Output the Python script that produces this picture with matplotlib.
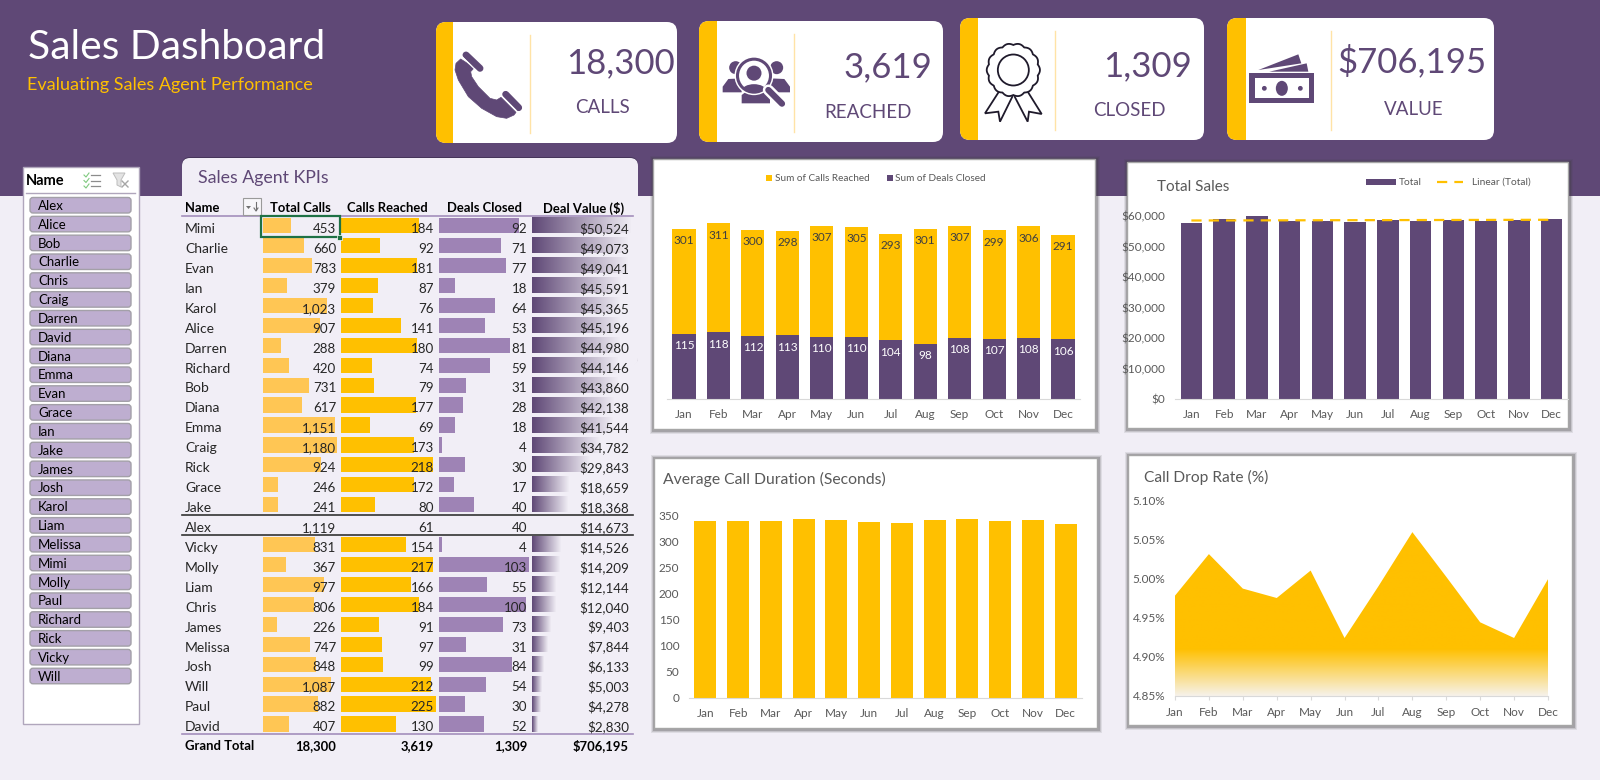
import numpy as np
import matplotlib
matplotlib.use("Agg")
import matplotlib.pyplot as plt
from matplotlib.colors import LinearSegmentedColormap, to_rgb
from matplotlib.lines import Line2D
from matplotlib.patches import Circle, Ellipse, FancyBboxPatch, Polygon, Rectangle

plt.rcParams["font.family"] = ["Lato", "DejaVu Sans"]

W, H = 1600, 780
PURPLE = "#5F4876"
YELLOW = "#FFC000"
LIGHT_YELLOW = "#FFC654"
BAR_PURPLE = "#9E83B5"
BG = "#F1EEF6"
GREY_TEXT = "#595959"
DARK_TEXT = "#262626"

# KPI table
agents = ["Mimi", "Charlie", "Evan", "Ian", "Karol", "Alice", "Darren", "Richard", "Bob",
          "Diana", "Emma", "Craig", "Rick", "Grace", "Jake", "Alex", "Vicky", "Molly",
          "Liam", "Chris", "James", "Melissa", "Josh", "Will", "Paul", "David"]
total_calls = [453, 660, 783, 379, 1023, 907, 288, 420, 731, 617, 1151, 1180, 924, 246, 241,
               1119, 831, 367, 977, 806, 226, 747, 848, 1087, 882, 407]
calls_reached = [184, 92, 181, 87, 76, 141, 180, 74, 79, 177, 69, 173, 218, 172, 80,
                 61, 154, 217, 166, 184, 91, 97, 99, 212, 225, 130]
deals_closed = [92, 71, 77, 18, 64, 53, 81, 59, 31, 28, 18, 4, 30, 17, 40,
                40, 4, 103, 55, 100, 73, 31, 84, 54, 30, 52]
deal_value = [50524, 49073, 49041, 45591, 45365, 45196, 44980, 44146, 43860, 42138, 41544,
              34782, 29843, 18659, 18368, 14673, 14526, 14209, 12144, 12040, 9403, 7844,
              6133, 5003, 4278, 2830]
grand_total = ["18,300", "3,619", "1,309", "$706,195"]
table_headers = ["Total Calls", "Calls Reached", "Deals Closed", "Deal Value ($)"]
slicer_names = sorted(agents)

# monthly charts
months = ["Jan", "Feb", "Mar", "Apr", "May", "Jun", "Jul", "Aug", "Sep", "Oct", "Nov", "Dec"]
monthly_reached = [301, 311, 300, 298, 307, 305, 293, 301, 307, 299, 306, 291]
monthly_closed = [115, 118, 112, 113, 110, 110, 104, 98, 108, 107, 108, 106]
monthly_sales = [57600, 59000, 59900, 58470, 58360, 58150, 58690, 58470, 58800, 58470, 58800, 59000]
avg_duration = [340, 341, 341, 345, 343, 338, 337, 342, 344, 340, 343, 334]
drop_rate = [4.978, 5.031, 4.987, 4.975, 5.010, 4.924, 4.990, 5.059, 5.002, 4.944, 4.924, 4.999]


def px_axes(x0, y0, x1, y1, zorder=2):
    """Axes placed by pixel box, y measured from the top of the image."""
    ax = fig.add_axes([x0 / W, 1 - y1 / H, (x1 - x0) / W, (y1 - y0) / H], zorder=zorder)
    ax.patch.set_alpha(0)
    return ax


def chart_panel(x0, y0, x1, y1):
    for grow, alpha in [(4, 0.10), (3, 0.15), (2, 0.25)]:
        bg.add_patch(Rectangle((x0 - grow + 1, y0 - grow + 1), x1 - x0 + 2 * grow, y1 - y0 + 2 * grow,
                               fc="#404040", ec="none", alpha=alpha))
    bg.add_patch(Rectangle((x0, y0), x1 - x0, y1 - y0, fc="white", ec="#A6A6A6", lw=1))


def month_axis(ax, pad=7):
    for side in ["top", "right", "left"]:
        ax.spines[side].set_visible(False)
    ax.spines["bottom"].set_color("#D9D9D9")
    ax.set_xticks(range(12))
    ax.set_xticklabels(months)
    ax.tick_params(axis="x", length=0, pad=pad, labelsize=8.5, labelcolor=GREY_TEXT)


def card(x0, y0, x1, y1, band_x, line_x):
    patch = FancyBboxPatch((x0 + 8, y0 + 8), x1 - x0 - 16, y1 - y0 - 16,
                           boxstyle="round,pad=8,rounding_size=10", fc="white", ec="none")
    bg.add_patch(patch)
    band = Rectangle((x0, y0), band_x - x0, y1 - y0, fc=YELLOW, ec="none")
    bg.add_patch(band)
    band.set_clip_path(patch)
    bg.plot([line_x, line_x], [y0 + 13, y1 - 10], color="#FFE3A6", lw=1)


def zoom_pts(points, ox, oy):
    return [(ox + x / 3, oy + y / 3) for x, y in points]


fig = plt.figure(figsize=(W / 100, H / 100), dpi=100, facecolor=BG)

bg = fig.add_axes([0, 0, 1, 1], zorder=0)
bg.set_xlim(0, W)
bg.set_ylim(H, 0)
bg.axis("off")
fg = fig.add_axes([0, 0, 1, 1], zorder=5)
fg.set_xlim(0, W)
fg.set_ylim(H, 0)
fg.axis("off")

# header band and titles
bg.add_patch(Rectangle((0, 0), W, 196, fc=PURPLE, ec="none"))
fg.text(28, 59, "Sales Dashboard", color="white", fontsize=29.3)
fg.text(27, 90, "Evaluating Sales Agent Performance", color=YELLOW, fontsize=13)

# KPI cards
card(436, 22, 677, 143, 453, 530)
card(699, 21, 943, 142, 717, 794)
card(960, 18, 1204, 140, 978, 1055)
card(1227, 18, 1494, 140, 1246, 1331)

kpi_numbers = [("18,300", 675, 73), ("3,619", 932, 77), ("1,309", 1192, 76), ("$706,195", 1486, 72)]
kpi_labels = [("CALLS", 603, 113), ("REACHED", 868, 118), ("CLOSED", 1129, 116), ("VALUE", 1414, 115)]
for text, x, y in kpi_numbers:
    fg.text(x, y, text, color=PURPLE, fontsize=25, ha="right")
for text, x, y in kpi_labels:
    fg.text(x, y, text, color=PURPLE, fontsize=13.5, ha="center")

# phone icon
body = [(62, 132), (48, 145), (45, 165), (55, 195), (85, 245), (125, 280), (170, 305), (200, 310),
        (222, 300), (228, 292), (183, 247), (170, 255), (150, 250), (115, 215), (95, 185), (92, 170), (103, 158)]
bg.add_patch(Polygon(zoom_pts(body, 440, 15), fc=PURPLE, ec=PURPLE, lw=0.5, joinstyle="round"))
for line in [[(78, 120), (120, 160)], [(197, 238), (236, 278)]]:
    pts = zoom_pts(line, 440, 15)
    bg.plot(*zip(*pts), color=PURPLE, lw=5, solid_capstyle="round")
for line in [[(66, 125), (110, 168)], [(186, 244), (228, 286)]]:
    pts = zoom_pts(line, 440, 15)
    bg.plot(*zip(*pts), color="white", lw=0.9)

# people search icon
for pts in [[(848, 232), (848, 215), (865, 192), (905, 190), (905, 232)],
            [(1050, 232), (1050, 215), (1033, 192), (990, 190), (990, 232)],
            [(905, 265), (905, 240), (925, 225), (965, 225), (990, 240), (990, 265)]]:
    bg.add_patch(Polygon(zoom_pts(pts, 440, 15), fc=PURPLE, ec="none"))
for cx in [887, 1010]:
    bg.add_patch(Circle(zoom_pts([(cx, 158)], 440, 15)[0], 6.5, fc=PURPLE, ec="none"))
cx, cy = zoom_pts([(942, 182)], 440, 15)[0]
bg.add_patch(Circle((cx, cy), 19.5, fc="white", ec="none"))
lens = Circle((cx, cy), 16.5, fc="white", ec=PURPLE, lw=2.2)
bg.add_patch(lens)
bg.add_patch(Circle((cx, cy - 2.5), 7.5, fc=PURPLE, ec="none"))
shoulders = Ellipse((cx, cy + 15), 24, 13, fc=PURPLE, ec="none")
bg.add_patch(shoulders)
shoulders.set_clip_path(lens)
handle = zoom_pts([(985, 225), (1026, 266)], 440, 15)
bg.plot(*zip(*handle), color="white", lw=8, solid_capstyle="round")
bg.plot(*zip(*handle), color=PURPLE, lw=4.5, solid_capstyle="round")

# rosette icon
rx, ry = zoom_pts([(160, 165)], 960, 15)[0]
angle = np.linspace(0, 2 * np.pi, 361)
radius = 25 + 1.6 * np.abs(np.cos(7 * angle))
ribbons = [[(120, 225), (75, 295), (115, 290), (120, 320), (158, 243)],
           [(200, 225), (245, 297), (207, 290), (203, 320), (163, 243)]]
for pts in ribbons:
    bg.add_patch(Polygon(zoom_pts(pts, 960, 15), closed=False, fc="white", ec="#1F1A2B", lw=1.3))
bg.fill(rx + radius * np.cos(angle), ry + radius * np.sin(angle), fc="white", ec="#1F1A2B", lw=1.3)
bg.add_patch(Circle((rx, ry), 15.5, fc="white", ec="#1F1A2B", lw=1.3))

# money icon
x0, y0 = zoom_pts([(868, 175)], 960, 15)[0]
bg.add_patch(Rectangle((x0, y0), 65, 30, fc=PURPLE, ec="none"))
bg.add_patch(Rectangle((x0 + 5.5, y0 + 5), 54, 19.5, fc="white", ec="none"))
bg.add_patch(Ellipse((x0 + 32.5, y0 + 15), 12, 15, fc=PURPLE, ec="none"))
for dx in [15, 51]:
    bg.add_patch(Circle((x0 + dx, y0 + 15), 2.4, fc=PURPLE, ec="none"))
for pts in [[(895, 165), (1015, 118), (1024, 145), (928, 160)],
            [(928, 170), (1040, 145), (1045, 170)]]:
    bg.add_patch(Polygon(zoom_pts(pts, 960, 15), fc=PURPLE, ec="none"))

# slicer
bg.add_patch(Rectangle((23, 167), 116, 557, fc="white", ec="#B0A6BC", lw=1))
fg.text(26, 185, "Name", color="black", fontsize=10.5, fontweight="bold")
bg.plot([26, 135], [193, 193], color="#B0A6BC", lw=1)
for i in range(3):
    row = 175 + i * 5.5
    bg.plot([84, 86, 89], [row, row + 2, row - 2], color="#7FC97F", lw=0.8)
    bg.plot([91, 100], [row, row], color="#8C8C8C", lw=0.9)
bg.add_patch(Polygon([(113, 173), (125, 173), (121, 180), (121, 187), (117, 185), (117, 180)],
                     fc="#E3E3E3", ec="#BDBDBD", lw=0.7))
bg.plot([122, 128], [181, 187], color="#A6A6A6", lw=1)
bg.plot([128, 122], [181, 187], color="#A6A6A6", lw=1)
for i, name in enumerate(slicer_names):
    top = 197.5 + i * 18.83
    bg.add_patch(FancyBboxPatch((33, top + 3), 95, 9.5, boxstyle="round,pad=3,rounding_size=3",
                                fc="#BEAED0", ec="#A3A0A8", lw=1))
    fg.text(38, top + 12.5, name, color="black", fontsize=9.5)

# KPI panel
bg.add_patch(FancyBboxPatch((186, 161), 448, 200, boxstyle="round,pad=4,rounding_size=8",
                            fc="#2E2440", ec="none", alpha=0.5))
bg.add_patch(FancyBboxPatch((186, 162), 448, 200, boxstyle="round,pad=4,rounding_size=8", fc=BG, ec="none"))
fg.text(198, 183, "Sales Agent KPIs", color=PURPLE, fontsize=12.8)

# table bars, one small axes per column
ROW0 = 225.7
ROW_STEP = 19.93
n_rows = len(agents)
table_top = ROW0 - ROW_STEP / 2
table_bottom = table_top + n_rows * ROW_STEP
rows = np.arange(n_rows)
has_bar = np.array(agents) != "Alex"

columns = [(total_calls, 263, 337, 1180, LIGHT_YELLOW),
           (calls_reached, 341, 436, 225, YELLOW),
           (deals_closed, 439, 528.7, 103, BAR_PURPLE)]
for values, x0, x1, vmax, color in columns:
    ax = px_axes(x0, table_top, x1, table_bottom)
    ax.barh(rows[has_bar], np.array(values)[has_bar], height=0.76, color=color)
    ax.set_xlim(0, vmax)
    ax.set_ylim(n_rows - 0.5, -0.5)
    ax.axis("off")

ax = px_axes(532, table_top, 630, table_bottom)
fade = LinearSegmentedColormap.from_list("fade", [PURPLE, "#A89BB5", "#EFECF4"])
for i in rows[has_bar]:
    ax.imshow(np.linspace(0, 1, 128).reshape(1, -1), cmap=fade, aspect="auto",
              extent=(0, deal_value[i], i + 0.38, i - 0.38), interpolation="bilinear")
ax.set_xlim(0, 50524)
ax.set_ylim(n_rows - 0.5, -0.5)
ax.axis("off")

# table text
NAME_SIZE = 10
VALUE_SIZE = 9.6
BOLD_SIZE = 9.4
header_right = [331, 428, 522, 624]
value_right = [336, 434, 527, 629]
fg.text(185, 212.5, "Name", color="black", fontsize=BOLD_SIZE, fontweight="bold")
for text, x in zip(table_headers, header_right):
    fg.text(x, 212.5, text, color="black", fontsize=BOLD_SIZE, fontweight="bold", ha="right")
bg.plot([182, 633], [216, 216], color="#A48FBC", lw=1.2)
for i, name in enumerate(agents):
    base = 233 + i * ROW_STEP
    fg.text(185, base, name, color=DARK_TEXT, fontsize=NAME_SIZE)
    cells = [f"{total_calls[i]:,}", f"{calls_reached[i]:,}", f"{deals_closed[i]:,}", f"${deal_value[i]:,}"]
    for text, x in zip(cells, value_right):
        fg.text(x, base, text, color=DARK_TEXT, fontsize=VALUE_SIZE, ha="right")
fg.plot([182, 633], [515, 515], color="#333333", lw=1.2)
fg.plot([182, 633], [535, 535], color="#333333", lw=1.2)
fg.plot([182, 633], [734, 734], color="#A48FBC", lw=1.2)
fg.text(185, 750, "Grand Total", color="black", fontsize=BOLD_SIZE, fontweight="bold")
for text, x in zip(grand_total, value_right):
    fg.text(x, 750, text, color="black", fontsize=BOLD_SIZE, fontweight="bold", ha="right")

# sort button and selected cell
fg.add_patch(Rectangle((243, 198), 18, 17, fc="#F7F6F9", ec="#9A9A9A", lw=0.8))
fg.add_patch(Polygon([(246, 206), (251, 206), (248.5, 209)], fc="#707070", ec="none"))
fg.plot([256, 256], [202, 210], color="#707070", lw=0.8)
fg.plot([254, 256, 258], [208, 211, 208], color="#707070", lw=0.8)
fg.add_patch(Rectangle((260.5, 215.5), 79, 21.5, fc="none", ec="#1E7145", lw=1.6))
fg.add_patch(Rectangle((337, 234.5), 5, 5, fc="#1E7145", ec="white", lw=0.5))

# calls reached vs deals closed, bars overlap
chart_panel(653, 159, 1095, 429)
ax = px_axes(666.8, 201.4, 1080.2, 399)
x = np.arange(12)
ax.bar(x, monthly_reached, width=0.67, color=YELLOW)
ax.bar(x, monthly_closed, width=0.67, color=PURPLE)
for i in x:
    ax.text(i, monthly_reached[i] - 21, str(monthly_reached[i]), ha="center", va="center",
            fontsize=8.5, color="#404040")
    ax.text(i, monthly_closed[i] - 21, str(monthly_closed[i]), ha="center", va="center",
            fontsize=8.5, color="white")
ax.set_xlim(-0.5, 11.5)
ax.set_ylim(0, 350)
ax.set_yticks([])
month_axis(ax)
fg.add_patch(Rectangle((766, 174.5), 6, 6, fc=YELLOW, ec="none"))
fg.text(775, 181, "Sum of Calls Reached", fontsize=7.2, color=GREY_TEXT)
fg.add_patch(Rectangle((887, 174.5), 6, 6, fc=PURPLE, ec="none"))
fg.text(895, 181, "Sum of Deals Closed", fontsize=7.2, color=GREY_TEXT)

# total sales with linear trend
chart_panel(1127, 162, 1568, 428)
ax = px_axes(1175, 216, 1568, 399)
ax.bar(x, monthly_sales, width=0.65, color=PURPLE)
slope, intercept = np.polyfit(x, monthly_sales, 1)
ax.plot(x, slope * x + intercept, color=YELLOW, lw=1.6, dashes=(4.6, 3.2), clip_on=False)
ax.set_xlim(-0.5, 11.5)
ax.set_ylim(0, 60000)
ax.set_yticks(range(0, 60001, 10000))
ax.set_yticklabels([f"${v:,}" for v in range(0, 60001, 10000)])
ax.tick_params(axis="y", length=0, pad=7, labelsize=8.5, labelcolor=GREY_TEXT)
month_axis(ax)
fg.text(1157, 191, "Total Sales", fontsize=11, color=GREY_TEXT)
fg.add_patch(Rectangle((1366, 179), 30, 6, fc=PURPLE, ec="none"))
fg.text(1399, 185, "Total", fontsize=7.4, color=GREY_TEXT)
fg.add_line(Line2D([1437, 1463], [182, 182], color=YELLOW, lw=1.6, dashes=(4.6, 3.2)))
fg.text(1472, 185, "Linear (Total)", fontsize=7.4, color=GREY_TEXT)

# average call duration
chart_panel(654, 458, 1097, 728)
ax = px_axes(689, 516, 1082, 698)
ax.bar(x, avg_duration, width=0.67, color=YELLOW)
ax.set_xlim(-0.5, 11.5)
ax.set_ylim(0, 350)
ax.set_yticks(range(0, 351, 50))
ax.tick_params(axis="y", length=0, pad=7, labelsize=8.5, labelcolor=GREY_TEXT)
month_axis(ax)
fg.text(663, 484, "Average Call Duration (Seconds)", fontsize=11.3, color=GREY_TEXT)

# call drop rate, area fades out towards the bottom
chart_panel(1128, 455, 1572, 725)
ax = px_axes(1175, 500, 1548, 696)
area = ax.fill_between(x, drop_rate, 4.85, color="none", lw=0)
yellow = np.array(to_rgb(YELLOW))
pale = np.array(to_rgb("#F6F2EA"))
heights = np.linspace(4.85, 5.10, 256)
mix = np.clip((heights - 4.85) / 0.06, 0, 1)[:, None]
gradient = pale + (yellow - pale) * mix
img = ax.imshow(gradient[:, None, :], extent=(0, 11, 4.85, 5.10), origin="lower", aspect="auto",
                interpolation="bilinear")
img.set_clip_path(area.get_paths()[0], ax.transData)
ax.set_xlim(0, 11)
ax.set_ylim(4.85, 5.10)
ax.set_yticks(np.arange(4.85, 5.101, 0.05))
ax.set_yticklabels([f"{v:.2f}%" for v in np.arange(4.85, 5.101, 0.05)])
ax.tick_params(axis="y", length=0, pad=7, labelsize=8.5, labelcolor=GREY_TEXT)
month_axis(ax)
ax.tick_params(axis="x", length=3, color="#D9D9D9", pad=5)
fg.text(1144, 482, "Call Drop Rate (%)", fontsize=11.2, color=GREY_TEXT)

fig.savefig("out.png", dpi=100, facecolor=BG)
